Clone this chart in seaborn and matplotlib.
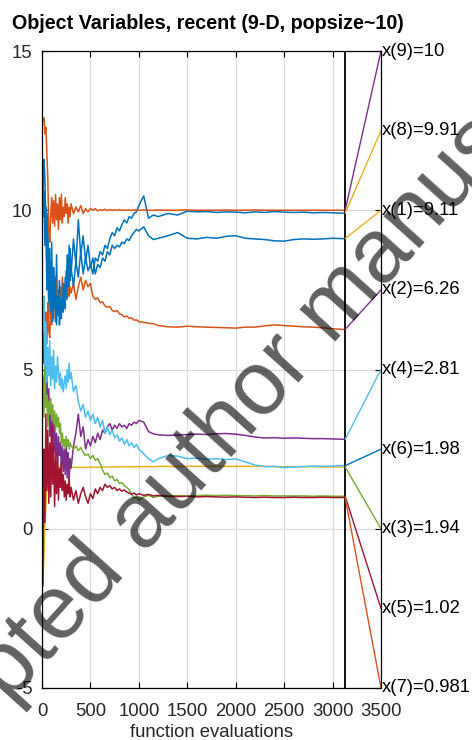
import matplotlib
matplotlib.use("Agg")
import matplotlib.pyplot as plt
import numpy as np
import pandas as pd
import seaborn as sns

# ---- data -------------------------------------------------------------
evals = [
    10, 20, 30, 40, 50, 60, 70, 80, 90, 100, 110, 120, 130, 140, 150,
    160, 170, 180, 190, 200, 210, 220, 230, 240, 250, 260, 270, 280, 290, 300,
    325, 350, 375, 400, 425, 450, 475, 500, 525, 550, 575, 600, 625, 650,
    675, 700, 725, 750, 775, 800, 825, 850, 875, 900, 925, 950, 975, 1000,
    1050, 1100, 1150, 1200, 1300, 1400, 1500, 1600, 1700, 1800, 1900, 2000,
    2100, 2200, 2300, 2400, 2500, 2600, 2700, 2800, 2900, 3000, 3100,
    3130,
]

x1 = [
    9.8, 10.6, 8.9, 10.1, 7.5, 9.2, 6.6, 8.4, 7.2, 9.0, 6.8, 8.2, 7.4, 6.5, 8.6,
    6.9, 7.5, 6.4, 7.0, 6.6, 7.4, 6.8, 7.6, 6.9, 8.1, 7.2, 8.4, 7.6, 8.8, 8.0,
    9.1, 8.3, 9.7, 8.6, 9.2, 8.4, 8.9, 8.2, 8.5, 8.0, 8.3, 8.2, 8.5, 8.4,
    8.7, 8.6, 8.9, 8.8, 8.9, 8.85, 9.0, 8.95, 9.1, 9.05, 9.2, 9.3, 9.4, 9.35,
    9.48, 9.2, 9.08, 9.12, 9.2, 9.3, 9.12, 9.1, 9.15, 9.12, 9.18, 9.2,
    9.12, 9.1, 9.08, 9.04, 9.03, 9.08, 9.1, 9.09, 9.1, 9.12, 9.11,
    9.11,
]
x2 = [
    5.6, 6.3, 4.9, 6.8, 5.8, 7.1, 6.2, 6.0, 7.0, 6.4, 7.3, 6.6, 7.5, 6.9, 7.8,
    7.0, 7.4, 6.8, 7.6, 7.1, 7.9, 7.3, 7.6, 7.2, 7.8, 7.4, 8.0, 7.3, 7.6, 7.4,
    7.7, 7.2, 7.6, 7.9, 7.5, 7.8, 7.6, 7.7, 7.3, 7.2, 7.25, 7.1, 7.12, 7.0,
    6.95, 6.98, 6.85, 6.82, 6.85, 6.75, 6.72, 6.65, 6.68, 6.6, 6.62, 6.55, 6.56, 6.5,
    6.48, 6.45, 6.44, 6.38, 6.34, 6.33, 6.36, 6.34, 6.33, 6.32, 6.31, 6.30,
    6.33, 6.33, 6.37, 6.40, 6.38, 6.36, 6.34, 6.33, 6.31, 6.28, 6.26,
    6.26,
]
x3 = [
    -1.6, -0.9, 0.3, 0.6, 1.7, 1.9, 1.85, 1.95, 1.9, 1.85, 1.9, 1.95, 1.9, 1.92, 1.88,
    1.9, 1.93, 1.95, 1.98, 2.0, 2.03, 2.0, 2.05, 2.02, 2.04, 2.06, 2.03, 1.98, 1.95, 1.93,
    1.93, 1.92, 1.93, 1.93, 1.92, 1.93, 1.94, 1.93, 1.93, 1.94, 1.93, 1.93, 1.94, 1.94,
    1.93, 1.94, 1.94, 1.95, 1.94, 1.94, 1.95, 1.94, 1.95, 1.95, 1.94, 1.95, 1.95, 1.95,
    1.95, 1.95, 1.95, 1.96, 1.96, 1.95, 1.96, 1.96, 1.96, 1.96, 1.96, 1.96,
    1.96, 1.96, 1.96, 1.95, 1.95, 1.95, 1.95, 1.95, 1.94, 1.94, 1.94,
    1.94,
]
x4 = [
    6.9, 5.2, 6.1, 4.0, 5.0, 3.4, 4.4, 2.9, 3.8, 2.6, 3.5, 2.4, 3.3, 2.2, 3.0,
    2.0, 2.9, 2.3, 2.7, 1.9, 2.6, 1.8, 2.5, 1.7, 2.8, 1.6, 2.4, 1.5, 2.2, 1.9,
    2.6, 3.0, 3.6, 2.9, 3.2, 2.5, 2.8, 2.6, 2.9, 2.7, 3.0, 2.8, 3.1, 3.0,
    3.2, 3.3, 3.1, 3.25, 3.15, 3.3, 3.2, 3.25, 3.15, 3.3, 3.25, 3.35, 3.3, 3.4,
    3.35, 3.05, 2.98, 2.95, 2.93, 2.94, 2.96, 2.97, 2.96, 2.98, 2.99, 2.97,
    2.93, 2.88, 2.85, 2.86, 2.84, 2.85, 2.84, 2.83, 2.83, 2.82, 2.81,
    2.81,
]
x5 = [
    4.8, 3.5, 5.3, 3.8, 4.2, 3.2, 4.0, 3.6, 4.1, 3.4, 3.9, 3.3, 3.7, 3.1, 3.6,
    3.2, 3.5, 3.0, 3.3, 2.7, 3.0, 2.6, 2.8, 2.5, 2.9, 2.6, 2.8, 2.5, 2.7, 2.6,
    2.5, 2.6, 2.45, 2.55, 2.4, 2.3, 2.35, 2.2, 2.3, 2.15, 2.2, 2.05, 1.85, 1.7,
    1.75, 1.6, 1.65, 1.5, 1.55, 1.42, 1.45, 1.35, 1.3, 1.22, 1.1, 0.95, 1.0, 0.9,
    1.0, 1.05, 0.98, 1.02, 1.03, 1.04, 1.03, 1.04, 1.05, 1.04, 1.05, 1.04,
    1.04, 1.03, 1.04, 1.03, 1.03, 1.03, 1.03, 1.02, 1.03, 1.02, 1.02,
    1.02,
]
x6 = [
    6.2, 7.3, 5.1, 6.5, 4.6, 5.7, 4.8, 5.9, 4.5, 5.4, 4.7, 5.6, 4.4, 5.1, 4.6,
    5.4, 4.9, 4.5, 4.9, 4.4, 4.7, 4.3, 4.6, 4.8, 4.4, 5.0, 4.6, 5.2, 4.7, 4.9,
    4.3, 4.5, 4.0, 3.7, 3.9, 3.5, 3.7, 3.4, 3.6, 3.3, 3.5, 3.2, 3.4, 3.0,
    3.2, 2.95, 3.1, 2.85, 2.95, 2.75, 2.85, 2.65, 2.8, 2.6, 2.7, 2.55, 2.65, 2.5,
    2.35, 2.2, 2.1, 2.2, 2.3, 2.28, 2.2, 2.22, 2.18, 2.2, 2.17, 2.19,
    2.1, 2.0, 1.95, 1.96, 1.92, 1.94, 1.95, 1.97, 1.96, 1.97, 1.98,
    1.98,
]
x7 = [
    -1.8, 2.5, 0.2, 3.6, 1.2, 3.1, 0.8, 2.7, 1.0, 3.3, 1.4, 2.6, 0.7, 2.2, 1.1,
    2.4, 0.9, 1.9, 1.3, 2.1, 1.2, 1.7, 1.0, 1.5, 0.9, 1.4, 1.1, 1.6, 1.0, 1.3,
    0.9, 1.2, 0.8, 1.1, 1.3, 1.0, 0.8, 1.1, 0.95, 1.25, 1.1, 1.3, 1.2, 1.4,
    1.3, 1.35, 1.25, 1.3, 1.2, 1.25, 1.18, 1.22, 1.15, 1.12, 1.08, 1.12, 1.06, 1.1,
    1.05, 1.08, 1.03, 1.05, 1.02, 1.01, 1.02, 1.0, 1.01, 1.0, 0.99, 1.0,
    0.99, 0.98, 0.99, 0.98, 0.98, 0.99, 0.98, 0.98, 0.99, 0.98, 0.98,
    0.981,
]
x8 = [
    10.3, 11.6, 11.0, 9.5, 8.2, 9.9, 7.2, 8.8, 6.8, 8.1, 6.5, 7.6, 6.9, 7.9, 6.4,
    7.3, 6.7, 7.8, 6.6, 7.2, 6.9, 7.7, 7.1, 7.9, 7.3, 8.6, 7.6, 8.9, 7.8, 8.2,
    7.6, 8.4, 7.9, 8.7, 8.0, 8.5, 8.1, 8.3, 8.0, 8.5, 8.4, 8.7, 8.6, 8.9,
    8.8, 9.1, 9.3, 9.2, 9.45, 9.35, 9.55, 9.7, 9.6, 9.8, 9.75, 9.9, 9.95, 10.15,
    10.45, 9.75, 9.85, 9.8, 9.9, 9.85, 9.97, 9.95, 9.96, 9.93, 9.95, 9.94,
    9.92, 9.95, 9.93, 9.96, 9.94, 9.93, 9.94, 9.92, 9.93, 9.92, 9.91,
    9.91,
]
x9 = [
    12.8, 12.9, 12.4, 12.6, 11.8, 11.0, 9.4, 9.0, 9.8, 10.4, 9.6, 10.3, 9.5, 10.5, 9.7,
    10.2, 9.4, 10.4, 9.7, 10.5, 9.6, 10.1, 9.8, 10.4, 9.9, 10.2, 9.6, 10.1, 9.8, 10.2,
    9.9, 10.1, 9.95, 10.15, 9.9, 10.05, 9.95, 10.05, 10.0, 10.05, 9.98, 10.02, 10.0, 10.03,
    9.99, 10.02, 10.0, 10.01, 10.0, 10.02, 10.0, 10.01, 10.0, 10.01, 10.0, 10.01, 10.0, 10.0,
    10.01, 10.0, 10.0, 10.01, 10.0, 10.0, 10.01, 10.0, 10.0, 10.0, 10.01, 10.0,
    10.0, 10.01, 10.0, 10.0, 10.0, 10.0, 10.0, 10.0, 10.0, 10.0, 10.0,
    10.0,
]

series = [x1, x2, x3, x4, x5, x6, x7, x8, x9]
names = ["x(%d)" % (i + 1) for i in range(9)]
line_colors = ["#0072BD", "#D95319", "#EDB120", "#7E2F8E", "#77AC30",
               "#4DBEEE", "#A2142F", "#0072BD", "#D95319"]
# label slots on the right edge, top to bottom, and the colour of each connector
label_slots = [15, 12.5, 10, 7.5, 5, 2.5, 0, -2.5, -5]
connector_colors = ["#7E2F8E", "#EDB120", "#EDB120", "#7E2F8E", "#4DBEEE",
                    "#0072BD", "#77AC30", "#A2142F", "#D95319"]
xticks = [0, 500, 1000, 1500, 2000, 2500, 3000, 3500]
yticks = [-5, 0, 5, 10, 15]
last_eval = evals[-1]

title = "Object Variables, recent (9-D, popsize~10)"
xlabel = "function evaluations"
watermark = "Accepted author manuscript"

# ---- figure -----------------------------------------------------------
sns.set_theme(style="white")
plt.rcParams["font.family"] = ["Liberation Sans", "DejaVu Sans"]
plt.rcParams["axes.unicode_minus"] = False

fig = plt.figure(figsize=(4.72, 7.4), dpi=100)
ax = fig.add_axes([42 / 472, 1 - 688 / 740, 339 / 472, 637 / 740])

df = pd.concat(
    [pd.DataFrame({"evals": evals, "value": s, "var": n})
     for s, n in zip(series, names)],
    ignore_index=True,
)
palette = dict(zip(names, line_colors))
sns.lineplot(data=df, x="evals", y="value", hue="var", hue_order=names,
             palette=palette, estimator=None, sort=False, legend=False,
             linewidth=1.1, ax=ax)

ax.set_xlim(0, 3500)
ax.set_ylim(-5, 15)
ax.set_xticks(xticks)
ax.set_xticklabels([str(t) for t in xticks])
ax.set_yticks(yticks)
ax.set_yticklabels([str(t) for t in yticks])
ax.set_xlabel("")
ax.set_ylabel("")
ax.grid(True, color="#dcdcdc", linewidth=0.9)
ax.set_axisbelow(True)
ax.tick_params(direction="in", length=4, width=0.8, color="black",
               labelcolor="#262626", labelsize=13.3,
               top=True, right=True, bottom=True, left=True)
ax.tick_params(axis="x", pad=11)
ax.tick_params(axis="y", pad=7)
for sp in ax.spines.values():
    sp.set_color("black")
    sp.set_linewidth(0.9)

# end-of-run marker
ax.axvline(last_eval, color="black", linewidth=1.3)

# connectors from the final values to the sorted labels
order = sorted(range(9), key=lambda i: series[i][-1], reverse=True)
for slot, ccol, i in zip(label_slots, connector_colors, order):
    final = series[i][-1]
    ax.plot([last_eval, 3500], [final, slot], color=ccol, linewidth=1.0,
            clip_on=False)
    ax.text(3510, slot, "%s=%s" % (names[i], "%.3g" % final), ha="left",
            va="center", fontsize=13.3, color="black", clip_on=False)

fig.text(12 / 472, 1 - 29 / 740, title, fontsize=14.2, fontweight="bold",
         ha="left", va="baseline", color="black")
fig.text(211.5 / 472, 1 - 737 / 740, xlabel, fontsize=13.3, ha="center",
         va="baseline", color="#262626")

fig.text(234 / 472, 1 - 420 / 740, watermark, fontsize=65, rotation=48,
         rotation_mode="anchor", ha="center", va="center", color="black",
         alpha=0.62, zorder=10)

fig.savefig("out.png", dpi=100)
